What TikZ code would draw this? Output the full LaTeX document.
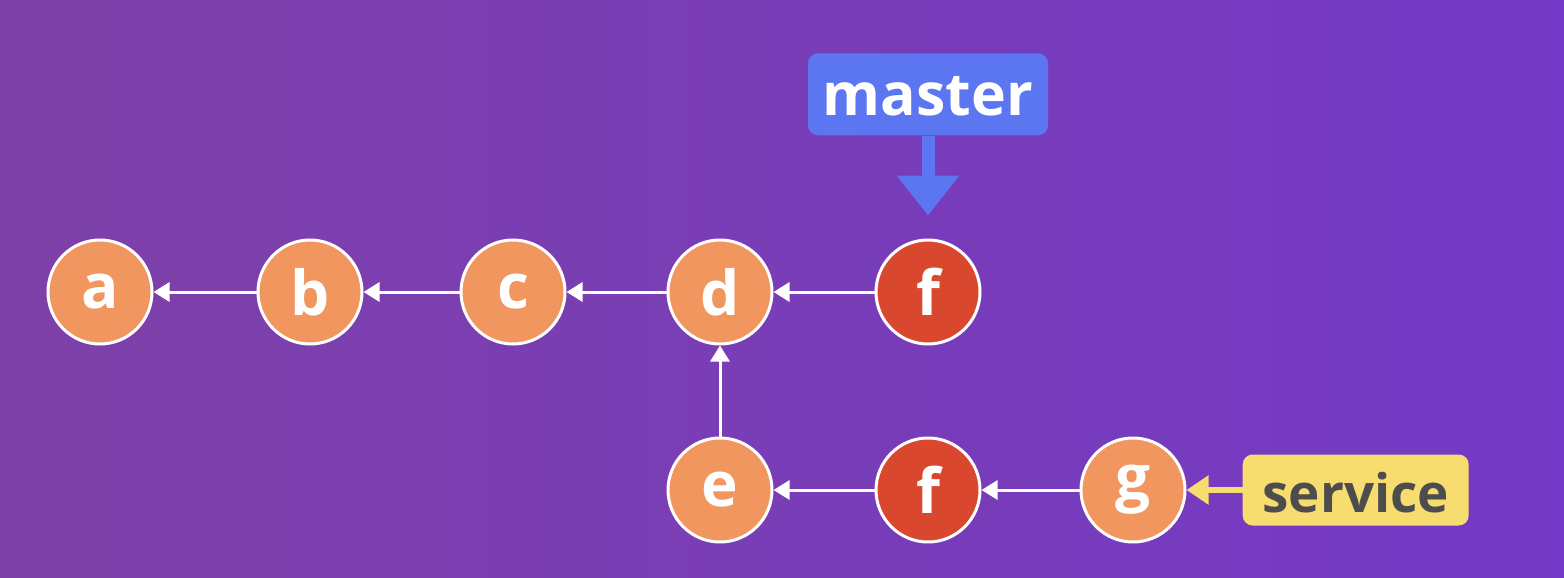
\documentclass[tikz,border=0pt]{standalone}
\usepackage{fontspec}
\setmainfont{Open Sans}
\usetikzlibrary{arrows.meta, positioning}

\definecolor{bgleft}{HTML}{7E41A8}
\definecolor{bgright}{HTML}{7439C6}
\definecolor{commit}{HTML}{F0965E}
\definecolor{head}{HTML}{D9472F}
\definecolor{masterblue}{HTML}{5B76F0}
\definecolor{serviceyellow}{HTML}{F7DC6F}
\definecolor{servicetext}{HTML}{4D4D4D}

\begin{document}
\begin{tikzpicture}[
  x=1pt, y=1pt,
  font=\bfseries\fontsize{62}{62}\selectfont,
  commitnode/.style={
    circle,
    draw=white,
    line width=3pt,
    fill=commit,
    text=white,
    minimum size=104pt,
    inner sep=0pt
  },
  headnode/.style={commitnode, fill=head},
  link/.style={-{Triangle[length=16pt, width=19pt]}, white, line width=3pt},
  branchbox/.style={
    rounded corners=10pt,
    inner sep=0pt,
    text depth=0pt
  },
  node distance=100pt
]

% background
\fill[left color=bgleft, right color=bgright] (0,0) rectangle (1564,-578);
\useasboundingbox (0,0) rectangle (1564,-578);

% =========================
% master line
% =========================
\node[commitnode] (a) at (100,-292) {a};
\node[commitnode, right=103pt of a] (b) {b};
\node[commitnode, right=96pt of b] (c) {c};
\node[commitnode, right=of c] (d) {d};
\node[headnode, right=101pt of d] (f) {f};

\draw[link] (b) -- (a);
\draw[link] (c) -- (b);
\draw[link] (d) -- (c);
\draw[link] (f) -- (d);

% =========================
% service line
% =========================
\node[commitnode, below=91pt of d] (e) {e};
\node[headnode, right=101pt of e] (f2) {f};
\node[commitnode, right=98pt of f2] (g) {g};

\draw[link] (e) -- (d);
\draw[link] (f2) -- (e);
\draw[link] (g) -- (f2);

% =========================
% branch labels
% =========================
\node[branchbox, fill=masterblue, text=white, minimum width=240pt,
  minimum height=82pt, font=\bfseries\fontsize{59}{59}\selectfont,
  above=103pt of f] (master) {\raisebox{-4pt}{master}};
\node[branchbox, fill=serviceyellow, text=servicetext, minimum width=226pt,
  minimum height=71pt, font=\bfseries\fontsize{53}{53}\selectfont,
  right=56pt of g] (service) {\raisebox{-4pt}{service}};

\draw[masterblue, line width=13pt, -{Triangle[length=40pt, width=60pt]},
  shorten >=23pt] (master) -- (f);
\draw[serviceyellow, line width=6pt, -{Triangle[length=22pt, width=28pt]}]
  (service) -- (g);

\end{tikzpicture}
\end{document}
